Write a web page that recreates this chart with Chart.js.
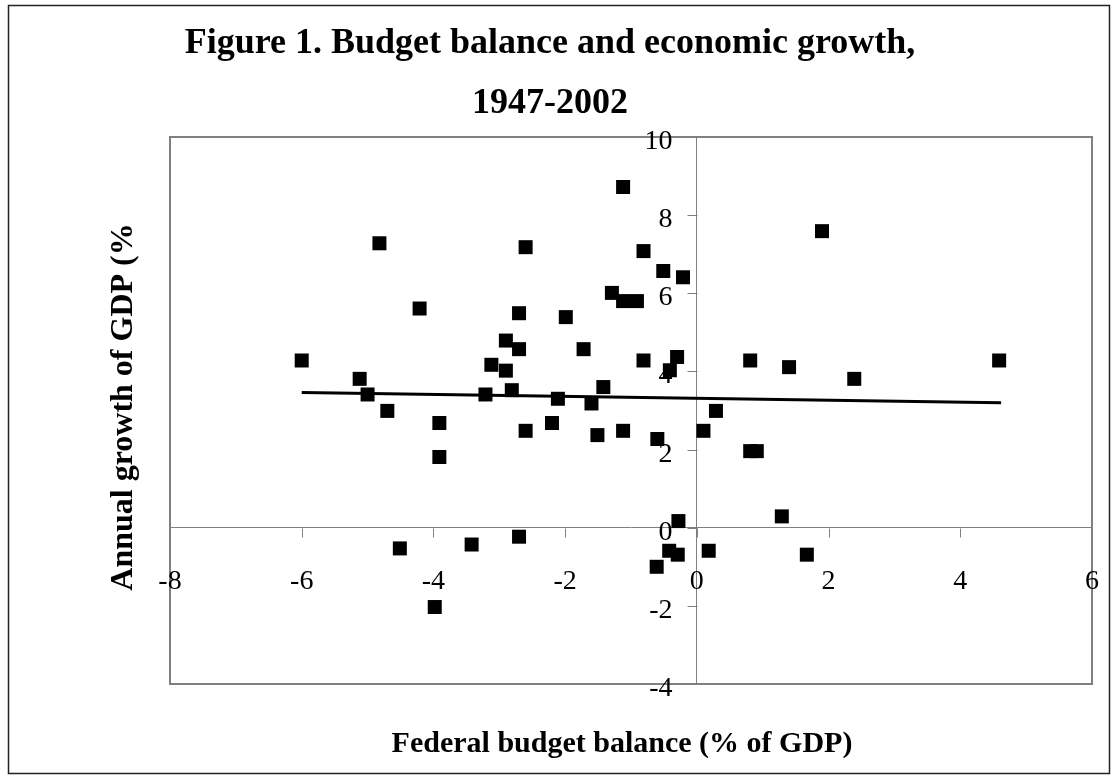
<!DOCTYPE html>
<html>
<head>
<meta charset="utf-8">
<script src="https://cdn.jsdelivr.net/npm/chart.js@4"></script>
<style>
body { margin: 0; background: #fff; }
#wrap { width: 1117px; height: 775px; }
</style>
</head>
<body>
<div id="wrap"><canvas id="budgetChart" width="1117" height="775"></canvas></div>
<script>
// federal budget balance (% of GDP) and annual GDP growth (%), 1947-2002
var balance = [-1.12, -4.82, -2.60, -0.81, -4.21, -1.29, -1.12, -0.91, -2.70, -1.99,
               -2.90, -2.70, -1.72, -6.00, -0.81, -3.12, -2.90, -5.12, -1.42, -2.81,
               -5.00, -3.21, -2.11, -1.60, -4.70, -3.91, -2.20, -2.60, -1.51, -1.12,
               -3.91, 1.90, -0.51, -0.21, -0.30, -0.41, 0.81, 1.40, 2.39, 4.59,
               0.29, 0.10, -0.60, 0.81, 0.91, 1.29, -0.28, -4.51, -3.42, -2.70,
               -0.42, -0.29, -0.61, 0.18, 1.67, -3.98];
var growth = [8.72, 7.28, 7.18, 7.08, 5.61, 6.01, 5.80, 5.80, 5.49, 5.39,
              4.79, 4.57, 4.57, 4.28, 4.28, 4.17, 4.02, 3.81, 3.60, 3.52,
              3.41, 3.41, 3.30, 3.18, 2.99, 2.68, 2.68, 2.48, 2.37, 2.48,
              1.81, 7.59, 6.57, 6.41, 4.37, 4.03, 4.28, 4.11, 3.81, 4.28,
              2.99, 2.48, 2.27, 1.96, 1.96, 0.29, 0.17, -0.53, -0.43, -0.23,
              -0.59, -0.69, -1.00, -0.59, -0.69, -2.03];

// linear trend line
var trendX = [-6.0, 4.62];
var trendY = [3.46, 3.20];

var xMin = -8, xMax = 6, xStep = 2;
var yMin = -4, yMax = 10, yStep = 2;

var titleLines = ["Figure 1. Budget balance and economic growth,", "1947-2002"];
var xTitle = "Federal budget balance (% of GDP)";
var yTitle = "Annual growth of GDP (%";

var points = balance.map(function (b, i) { return { x: b, y: growth[i] }; });
var trend = trendX.map(function (t, i) { return { x: t, y: trendY[i] }; });

var serif = "'Liberation Serif', 'Times New Roman', serif";

// plot frame, tick marks and tick labels next to the crossing axes
var decor = {
    id: "decor",
    beforeDatasetsDraw: function (chart) {
        var a = chart.chartArea, c = chart.ctx;
        var sx = chart.scales.x, sy = chart.scales.y;
        var x0 = Math.round(sx.getPixelForValue(0)) + 0.5;
        var y0 = Math.round(sy.getPixelForValue(0)) + 0.5;
        c.save();
        c.strokeStyle = "#808080";
        c.lineWidth = 2;
        c.strokeRect(a.left, a.top, a.right - a.left, a.bottom - a.top);

        c.lineWidth = 1;
        c.beginPath();
        sx.ticks.forEach(function (t) {
            var px = Math.round(sx.getPixelForValue(t.value)) + 0.5;
            c.moveTo(px, y0);
            c.lineTo(px, y0 + 9);
        });
        sy.ticks.forEach(function (t) {
            var py = Math.round(sy.getPixelForValue(t.value)) + 0.5;
            c.moveTo(x0, py);
            c.lineTo(x0 - 10, py);
        });
        c.stroke();

        c.fillStyle = "#000";
        c.font = "28px " + serif;
        c.textBaseline = "alphabetic";
        c.textAlign = "center";
        sx.ticks.forEach(function (t) {
            c.fillText(String(t.value), sx.getPixelForValue(t.value), y0 + 60);
        });
        c.textAlign = "right";
        sy.ticks.forEach(function (t) {
            c.fillText(String(t.value), x0 - 25, sy.getPixelForValue(t.value) + 12);
        });
        c.restore();
    },
    afterDraw: function (chart) {
        var c = chart.ctx;
        c.save();
        c.strokeStyle = "#222";
        c.lineWidth = 1.5;
        c.strokeRect(8.5, 5.5, 1101, 768);

        c.fillStyle = "#000";
        c.textAlign = "center";
        c.textBaseline = "alphabetic";
        c.font = "bold 36px " + serif;
        c.fillText(titleLines[0], 550, 53);
        c.fillText(titleLines[1], 550, 113);

        c.font = "bold 30px " + serif;
        c.fillText(xTitle, 622, 752);

        c.font = "bold 32px " + serif;
        c.translate(132, 407);
        c.rotate(-Math.PI / 2);
        c.fillText(yTitle, 0, 0);
        c.restore();
    }
};

var ctx = document.getElementById("budgetChart").getContext("2d");

var myChart = new Chart(ctx, {
    type: "scatter",
    data: {
        datasets: [
            {
                label: "Years",
                data: points,
                pointStyle: "rect",
                pointRadius: 9.9,
                pointBackgroundColor: "#000",
                pointBorderWidth: 0,
                showLine: false,
            },
            {
                label: "Trend",
                data: trend,
                showLine: true,
                borderColor: "#000",
                borderWidth: 3,
                pointRadius: 0,
            },
        ],
    },
    options: {
        responsive: false,
        animation: false,
        layout: {
            padding: { left: 170, top: 137, right: 25, bottom: 91 },
        },
        scales: {
            x: {
                type: "linear",
                position: { y: 0 },
                min: xMin,
                max: xMax,
                ticks: { stepSize: xStep, display: false },
                grid: { drawOnChartArea: false, drawTicks: false },
                border: { color: "#808080", width: 1 },
            },
            y: {
                type: "linear",
                position: { x: 0 },
                min: yMin,
                max: yMax,
                ticks: { stepSize: yStep, display: false },
                grid: { drawOnChartArea: false, drawTicks: false },
                border: { color: "#808080", width: 1 },
            },
        },
        plugins: {
            legend: { display: false },
            title: { display: false },
            tooltip: { enabled: true, mode: "nearest" },
        },
    },
    plugins: [decor],
});
</script>
</body>
</html>
